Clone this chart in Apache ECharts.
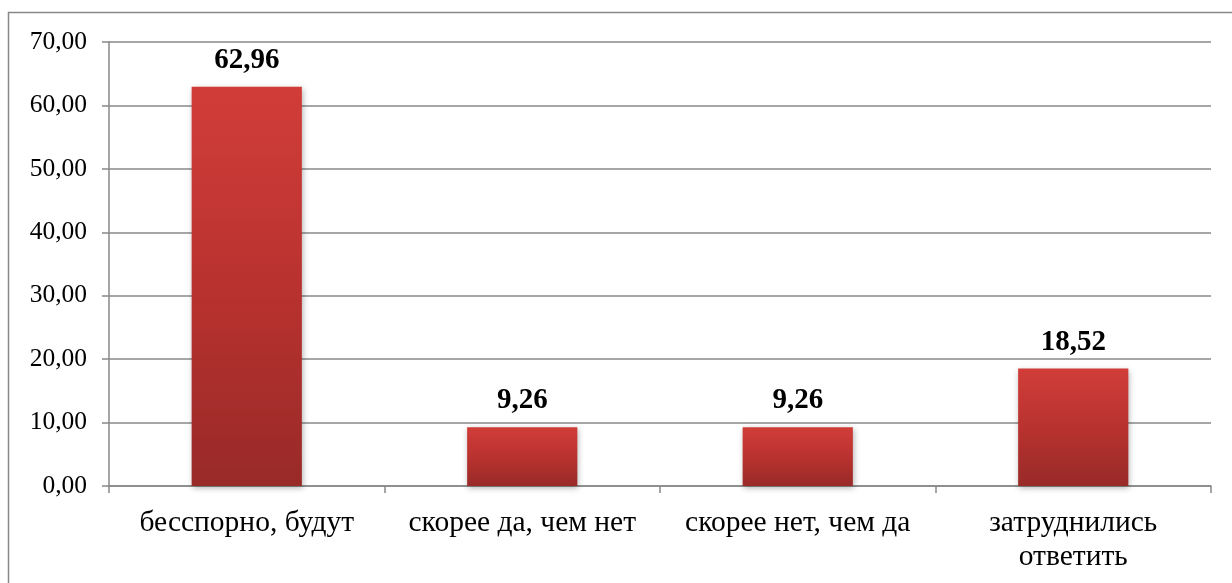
<!DOCTYPE html>
<html><head><meta charset="utf-8">
<script src="https://cdn.jsdelivr.net/npm/echarts@6/dist/echarts.min.js"></script>
<style>html,body{margin:0;padding:0;background:#fff;}#c{width:1232px;height:583px;}</style>
</head><body><div id="c"></div>
<script>
const categories = ['бесспорно, будут', 'скорее да, чем нет', 'скорее нет, чем да', 'затруднились\nответить'];
const values = [62.96, 9.26, 9.26, 18.52];
const yTicks = { min: 0, max: 70, interval: 10 };

const chart = echarts.init(document.getElementById('c'), null, { renderer: 'canvas' });
const fmt = v => v.toFixed(2).replace('.', ',');
chart.setOption({
  animation: false,
  textStyle: { fontFamily: 'Liberation Serif' },
  graphic: [{
    type: 'polyline', silent: true,
    shape: { points: [[8.5, 600], [8.5, 12.5], [1240, 12.5]] },
    style: { stroke: '#888', lineWidth: 1.5, fill: null }
  }],
  grid: { left: 109, right: 21, top: 42, bottom: 97 },
  xAxis: {
    type: 'category', data: categories,
    axisLine: { lineStyle: { color: '#888', width: 1.5 } },
    axisTick: { show: true, length: 7, alignWithLabel: false, lineStyle: { color: '#888', width: 1.5 } },
    axisLabel: { color: '#000', fontSize: 29.5, fontFamily: 'Liberation Serif', margin: 20, lineHeight: 34, interval: 0 }
  },
  yAxis: {
    type: 'value', min: yTicks.min, max: yTicks.max, interval: yTicks.interval,
    axisLine: { show: true, lineStyle: { color: '#888', width: 1.5 } },
    axisTick: { show: true, length: 7, lineStyle: { color: '#888', width: 1.5 } },
    splitLine: { lineStyle: { color: '#888', width: 1.5 } },
    axisLabel: { color: '#000', fontSize: 25.5, fontFamily: 'Liberation Serif', margin: 22, formatter: fmt }
  },
  series: [{
    type: 'bar', data: values, barWidth: '40%',
    itemStyle: {
      color: new echarts.graphic.LinearGradient(0, 0, 0, 1, [
        { offset: 0, color: '#D13D39' },
        { offset: 0.5, color: '#B9322F' },
        { offset: 1, color: '#982A28' }
      ]),
      shadowColor: 'rgba(0,0,0,0.3)', shadowBlur: 6, shadowOffsetX: 1, shadowOffsetY: 2
    },
    label: {
      show: true, position: 'top', distance: 12, color: '#000',
      fontSize: 29, fontWeight: 'bold', fontFamily: 'Liberation Serif', formatter: p => fmt(p.value)
    }
  }]
});
</script></body></html>
